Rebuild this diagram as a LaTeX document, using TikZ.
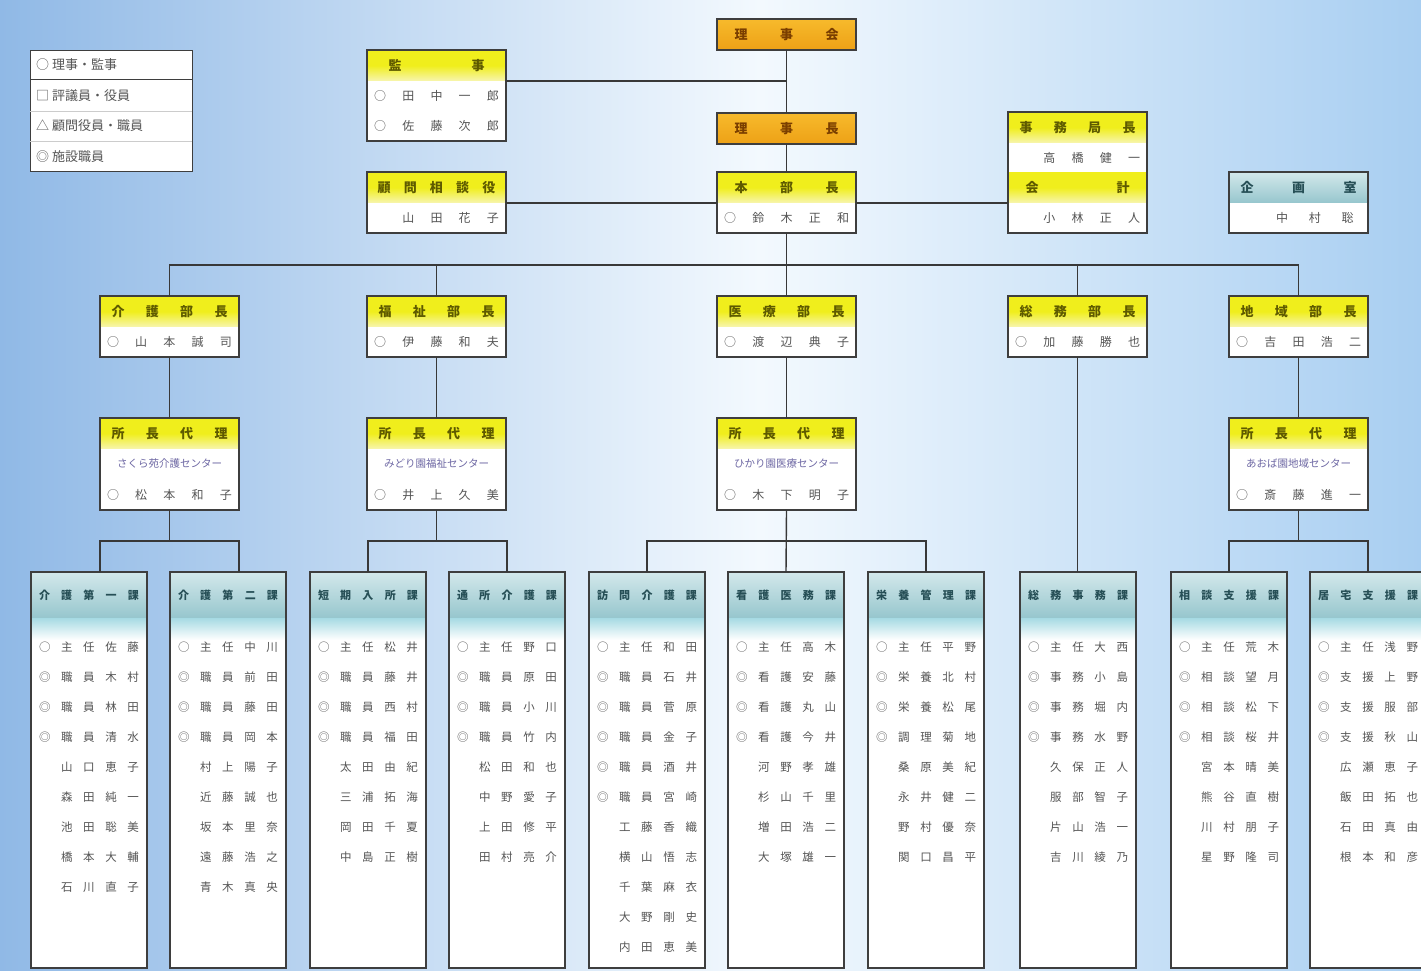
\documentclass[tikz,border=0pt]{standalone}
\usepackage{fontspec}
\newfontfamily\jp{Noto Sans CJK JP}
\usetikzlibrary{positioning}

\definecolor{bgside}{HTML}{90B9E6}
\definecolor{bgmid}{HTML}{F3F9FE}
\definecolor{bgright}{HTML}{A8CEF1}
\definecolor{boxline}{HTML}{3E3E3E}
\definecolor{linkgray}{HTML}{383838}
\definecolor{yelA}{HTML}{F0EE1C}
\definecolor{yelB}{HTML}{F7F5B0}
\definecolor{yeltxt}{HTML}{5E5A00}
\definecolor{orgA}{HTML}{F7BA2C}
\definecolor{orgB}{HTML}{EDA116}
\definecolor{orgtxt}{HTML}{7A3E00}
\definecolor{tealA}{HTML}{D3E8EB}
\definecolor{tealB}{HTML}{96C6CD}
\definecolor{tealC}{HTML}{A6DAE3}
\definecolor{tealtxt}{HTML}{264F56}
\definecolor{listtxt}{HTML}{555555}
\definecolor{facil}{HTML}{6E68A4}

% spread the characters of a word over a given width
\def\sprdx#1{\ifx#1\relax\else\hfill#1\expandafter\sprdx\fi}
\def\sprdfirst#1{#1\sprdx}
\newcommand{\spread}[2]{\makebox[#1]{\sprdfirst#2\relax}}
\newcommand{\sprdlist}[1]{\spread{100pt}{#1}}

\tikzset{
  cell/.style={anchor=north west, minimum width=139pt, minimum height=30pt,
    inner sep=0pt, outer sep=0pt, font=\jp\fontsize{13}{14}\selectfont},
  yhead/.style={cell, minimum height=31pt, top color=yelA, bottom color=yelB, middle color=yelA, text=yeltxt, font=\jp\bfseries\fontsize{13}{14}\selectfont},
  ohead/.style={cell, minimum height=31pt, top color=orgA, bottom color=orgB, text=orgtxt, draw=boxline, line width=1.4pt, font=\jp\bfseries\fontsize{13}{14}\selectfont},
  thead/.style={cell, minimum height=31pt, top color=tealA, bottom color=tealB, text=tealtxt, font=\jp\bfseries\fontsize{13}{14}\selectfont},
  wline/.style={cell, fill=white, text=listtxt, font=\jp\fontsize{12}{13}\selectfont},
  fline/.style={wline, text=facil, font=\jp\fontsize{10.5}{12}\selectfont},
  frame/.style={draw=boxline, line width=1.4pt},
  link/.style={draw=linkgray, line width=1.4pt},
  legrow/.style={anchor=west, inner sep=0pt, text=listtxt, font=\jp\fontsize{13}{14}\selectfont},
  dhead/.style={anchor=north west, minimum width=116pt, minimum height=46pt, inner sep=0pt, outer sep=0pt,
    top color=tealA, bottom color=tealB, text=tealtxt, font=\jp\bfseries\fontsize{11}{12}\selectfont},
  dband/.style={minimum width=116pt, minimum height=22pt, inner sep=0pt, outer sep=0pt, top color=tealC, bottom color=white},
  dlist/.style={inner sep=0pt, text=listtxt, font=\jp\fontsize{11.5}{12}\selectfont},
}

% department column: name, left x, title, staff list
\newcommand{\deptbox}[4]{%
  \fill[white] (#2,572) rectangle ({#2+116},968);
  \node[dhead] (#1) at (#2,572) {\spread{100pt}{#3}};
  \node[dband, below=0pt of #1] (#1band) {};
  \foreach \e [count=\i] in {#4}
    \node[dlist] (#1r\i) at ({#2+58},{647+30*(\i-1)}) {\expandafter\sprdlist\expandafter{\e}};
  \draw[frame] (#2,572) rectangle ({#2+116},968);
}

\begin{document}
\begin{tikzpicture}[x=1pt,y=-1pt]
\useasboundingbox (0,0) rectangle (1421,971);
\clip (0,0) rectangle (1421,971);
\shade[left color=bgside, right color=bgmid] (0,0) rectangle (760,971);
\shade[left color=bgmid, right color=bgright] (760,0) rectangle (1421,971);

% legend
\node[frame, fill=white, minimum width=162pt, minimum height=121pt, anchor=north west, inner sep=0pt] (hanrei) at (30,50) {};
\draw[boxline, line width=1pt] (30,80) -- (192,80);
\draw[gray!40] (30,111) -- (192,111);
\draw[gray!40] (30,141) -- (192,141);
\node[legrow] (lg1) at (36,65) {○ 理事・監事};
\node[legrow] (lg2) at (36,96) {□ 評議員・役員};
\node[legrow] (lg3) at (36,126) {△ 顧問役員・職員};
\node[legrow] (lg4) at (36,157) {◎ 施設職員};

% top chain
\node[ohead] (rijikai) at (717,19) {\spread{104pt}{理事会}};
\node[ohead] (rijicho) at (717,113) {\spread{104pt}{理事長}};
\node[yhead] (honbu) at (717,172) {\spread{104pt}{本部長}};
\node[wline, below=0pt of honbu] (honbu1) {\spread{125pt}{○鈴木正和}};
\draw[frame] (honbu.north west) rectangle (honbu1.south east);

\node[yhead] (kansa) at (367,50) {\spread{96pt}{監事}};
\node[wline, below=0pt of kansa] (kansa1) {\spread{125pt}{○田中一郎}};
\node[wline, below=0pt of kansa1] (kansa2) {\spread{125pt}{○佐藤次郎}};
\draw[frame] (kansa.north west) rectangle (kansa2.south east);

\node[yhead] (komon) at (367,172) {\spread{118pt}{顧問相談役}};
\node[wline, below=0pt of komon] (komon1) {\spread{125pt}{　山田花子}};
\draw[frame] (komon.north west) rectangle (komon1.south east);

\node[yhead] (jimu) at (1008,112) {\spread{116pt}{事務局長}};
\node[wline, below=0pt of jimu, minimum height=29pt] (jimu1) {\spread{125pt}{　高橋健一}};
\node[yhead, below=0pt of jimu1] (kaikei) {\spread{104pt}{会計}};
\node[wline, below=0pt of kaikei] (kaikei1) {\spread{125pt}{　小林正人}};
\draw[frame] (jimu.north west) rectangle (kaikei1.south east);

\node[thead] (kikaku) at (1229,172) {\spread{116pt}{企画室}};
\node[wline, below=0pt of kikaku] (kikaku1) {\spread{110pt}{　中村聡}};
\draw[frame] (kikaku.north west) rectangle (kikaku1.south east);

\draw[link] (rijikai.south) -- (rijicho.north);
\draw[link] (rijicho.south) -- (honbu.north);
\draw[link] (kansa.south east) -- (kansa.south east -| rijikai.south);
\draw[link] (komon.south east) -- (honbu.south west);
\draw[link] (honbu.south east) -- (kaikei.south west);

% second row
\node[yhead] (bu1) at (100,296) {\spread{116pt}{介護部長}};
\node[wline, below=0pt of bu1] (bu1n) {\spread{125pt}{○山本誠司}};
\node[yhead] (bu2) at (367,296) {\spread{116pt}{福祉部長}};
\node[wline, below=0pt of bu2] (bu2n) {\spread{125pt}{○伊藤和夫}};
\node[yhead] (bu3) at (717,296) {\spread{116pt}{医療部長}};
\node[wline, below=0pt of bu3] (bu3n) {\spread{125pt}{○渡辺典子}};
\node[yhead] (bu4) at (1008,296) {\spread{116pt}{総務部長}};
\node[wline, below=0pt of bu4] (bu4n) {\spread{125pt}{○加藤勝也}};
\node[yhead] (bu5) at (1229,296) {\spread{116pt}{地域部長}};
\node[wline, below=0pt of bu5] (bu5n) {\spread{125pt}{○吉田浩二}};
\foreach \b in {bu1,bu2,bu3,bu4,bu5}
  \draw[frame] (\b.north west) rectangle (\b n.south east);

\coordinate (bus) at (786,265);
\draw[link] (honbu1.south) -- (bu3.north);
\draw[link] (bu1.north) -- (bu1.north |- bus) -- (bu5.north |- bus) -- (bu5.north);
\foreach \b in {bu2,bu4}
  \draw[link] (\b.north) -- (\b.north |- bus);

% third row
\node[yhead] (sho1) at (100,418) {\spread{116pt}{所長代理}};
\node[fline, below=0pt of sho1] (sho1b) {さくら苑介護センター};
\node[wline, below=0pt of sho1b, minimum height=31pt] (sho1c) {\spread{125pt}{○松本和子}};
\node[yhead] (sho2) at (367,418) {\spread{116pt}{所長代理}};
\node[fline, below=0pt of sho2] (sho2b) {みどり園福祉センター};
\node[wline, below=0pt of sho2b, minimum height=31pt] (sho2c) {\spread{125pt}{○井上久美}};
\node[yhead] (sho3) at (717,418) {\spread{116pt}{所長代理}};
\node[fline, below=0pt of sho3] (sho3b) {ひかり園医療センター};
\node[wline, below=0pt of sho3b, minimum height=31pt] (sho3c) {\spread{125pt}{○木下明子}};
\node[yhead] (sho5) at (1229,418) {\spread{116pt}{所長代理}};
\node[fline, below=0pt of sho5] (sho5b) {あおば園地域センター};
\node[wline, below=0pt of sho5b, minimum height=31pt] (sho5c) {\spread{125pt}{○斎藤進一}};
\foreach \s in {sho1,sho2,sho3,sho5}
  \draw[frame] (\s.north west) rectangle (\s c.south east);

\draw[link] (bu1n.south) -- (sho1.north);
\draw[link] (bu2n.south) -- (sho2.north);
\draw[link] (bu3n.south) -- (sho3.north);
\draw[link] (bu5n.south) -- (sho5.north);

% departments
\deptbox{d1}{31}{介護第一課}{○主任佐藤,◎職員木村,◎職員林田,◎職員清水,　山口恵子,　森田純一,　池田聡美,　橋本大輔,　石川直子}
\deptbox{d2}{170}{介護第二課}{○主任中川,◎職員前田,◎職員藤田,◎職員岡本,　村上陽子,　近藤誠也,　坂本里奈,　遠藤浩之,　青木真央}
\deptbox{d3}{310}{短期入所課}{○主任松井,◎職員藤井,◎職員西村,◎職員福田,　太田由紀,　三浦拓海,　岡田千夏,　中島正樹}
\deptbox{d4}{449}{通所介護課}{○主任野口,◎職員原田,◎職員小川,◎職員竹内,　松田和也,　中野愛子,　上田修平,　田村亮介}
\deptbox{d5}{589}{訪問介護課}{○主任和田,◎職員石井,◎職員菅原,◎職員金子,◎職員酒井,◎職員宮崎,　工藤香織,　横山悟志,　千葉麻衣,　大野剛史,　内田恵美}
\deptbox{d6}{728}{看護医務課}{○主任高木,◎看護安藤,◎看護丸山,◎看護今井,　河野孝雄,　杉山千里,　増田浩二,　大塚雄一}
\deptbox{d7}{868}{栄養管理課}{○主任平野,◎栄養北村,◎栄養松尾,◎調理菊地,　桑原美紀,　永井健二,　野村優奈,　関口昌平}
\deptbox{d8}{1020}{総務事務課}{○主任大西,◎事務小島,◎事務堀内,◎事務水野,　久保正人,　服部智子,　片山浩一,　吉川綾乃}
\deptbox{d9}{1171}{相談支援課}{○主任荒木,◎相談望月,◎相談松下,◎相談桜井,　宮本晴美,　熊谷直樹,　川村朋子,　星野隆司}
\deptbox{d10}{1310}{居宅支援課}{○主任浅野,◎支援上野,◎支援服部,◎支援秋山,　広瀬恵子,　飯田拓也,　石田真由,　根本和彦}

\draw[link] (sho1c.south) -- ++(0,31) coordinate (b1);
\draw[link] (sho1.west |- d1.north) -- (sho1.west |- b1) -- (sho1.east |- b1) -- (sho1.east |- d2.north);
\draw[link] (sho2c.south) -- ++(0,31) coordinate (b2);
\draw[link] (d3.north) -- (d3.north |- b2) -- (d4.north |- b2) -- (d4.north);
\draw[link] (sho3c.south) -- (d6.north);
\coordinate (b3) at (sho3c.south |- b2);
\draw[link] (d5.north) -- (d5.north |- b3) -- (d7.north |- b3) -- (d7.north);
\draw[link] (bu4n.south) -- (bu4n.south |- d8.north);
\draw[link] (sho5c.south) -- ++(0,31) coordinate (b5);
\draw[link] (d9.north) -- (d9.north |- b5) -- (d10.north |- b5) -- (d10.north);
\end{tikzpicture}
\end{document}
